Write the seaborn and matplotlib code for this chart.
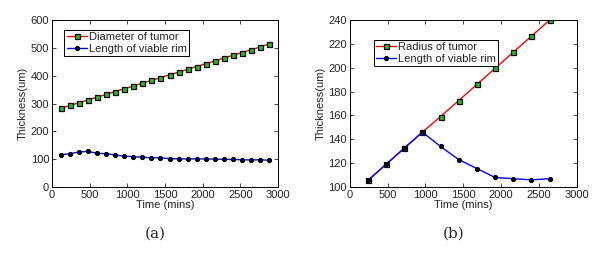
import numpy as np
import pandas as pd
import seaborn as sns
import matplotlib.pyplot as plt

# -----------------------------
# Data
# -----------------------------
# (a) sampled every 120 mins
time_a = [120, 240, 360, 480, 600, 720, 840, 960, 1080, 1200, 1320, 1440,
          1560, 1680, 1800, 1920, 2040, 2160, 2280, 2400, 2520, 2640, 2760, 2880]
diameter_a = [283, 293, 303, 313, 323, 333, 343, 353, 363, 373, 383, 393,
              403, 413, 423, 433, 443, 453, 463, 473, 483, 493, 503, 514]
rim_a = [116, 120, 126, 128, 121, 120, 115, 111, 109, 107, 105, 105,
         102, 101, 101, 101, 101, 100, 100, 99, 98, 97, 98, 96]

# (b) sampled every 240 mins
time_b = [240, 480, 720, 960, 1200, 1440, 1680, 1920, 2160, 2400, 2640]
radius_b = [105.5, 119, 132.5, 146, 159, 172.5, 186, 199.5, 213, 226.5, 240]
rim_b = [105.5, 119, 132.5, 146, 134, 123, 115.5, 108, 107, 106, 107]

sns.set_style('ticks')
plt.rcParams['font.family'] = ['Liberation Sans', 'DejaVu Sans']
plt.rcParams['xtick.direction'] = 'in'
plt.rcParams['ytick.direction'] = 'in'
plt.rcParams['xtick.top'] = True
plt.rcParams['ytick.right'] = True
plt.rcParams['xtick.major.size'] = 3
plt.rcParams['ytick.major.size'] = 3

fig = plt.figure(figsize=(6.14, 2.56), dpi=100)
ax_a = fig.add_axes([0.0847, 0.2695, 0.368, 0.652])
ax_b = fig.add_axes([0.5695, 0.2695, 0.370, 0.652])

square_kw = dict(marker='s', markersize=3.6, markerfacecolor='#1fbf1f',
                 markeredgecolor='black', markeredgewidth=0.9)
dot_kw = dict(marker='o', markersize=3, markerfacecolor='black',
              markeredgecolor='black')


def draw_panel(ax, t, top, rim, top_label, ylim, yticks, legend_pos):
    sns.lineplot(x=t, y=top, ax=ax, color='red', linewidth=1,
                 label=top_label, **square_kw)
    sns.lineplot(x=t, y=rim, ax=ax, color='blue', linewidth=1,
                 label='Length of viable rim', **dot_kw)
    ax.set_xlim(0, 3000)
    ax.set_xticks(range(0, 3001, 500))
    ax.set_ylim(*ylim)
    ax.set_yticks(yticks)
    ax.set_xlabel('Time (mins)', fontsize=8, labelpad=0)
    ax.set_ylabel('Thickness(um)', fontsize=8, labelpad=2)
    ax.tick_params(labelsize=8, pad=2, width=0.6)
    for s in ax.spines.values():
        s.set_linewidth(0.7)
        s.set_color('black')
    leg = ax.legend(loc='upper left', bbox_to_anchor=legend_pos, fontsize=8,
                    fancybox=False, edgecolor='black', framealpha=1,
                    handlelength=1.8, handletextpad=0.2, borderpad=0.2,
                    labelspacing=0.15, borderaxespad=0)
    leg.get_frame().set_linewidth(0.7)


draw_panel(ax_a, time_a, diameter_a, rim_a, 'Diameter of tumor',
           (0, 600), range(0, 601, 100), (0.055, 0.94))
draw_panel(ax_b, time_b, radius_b, rim_b, 'Radius of tumor',
           (100, 240), range(100, 241, 20), (0.105, 0.88))

fig.text(0.2525, 0.07, '(a)', family='DejaVu Serif', fontsize=11, ha='center')
fig.text(0.739, 0.07, '(b)', family='DejaVu Serif', fontsize=11, ha='center')

plt.savefig('out.png', dpi=100)
